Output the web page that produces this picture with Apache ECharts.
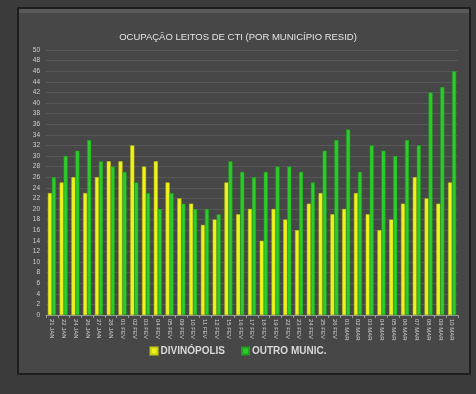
<!DOCTYPE html>
<html>
<head>
<meta charset="utf-8">
<script src="https://cdn.jsdelivr.net/npm/echarts@6/dist/echarts.min.js"></script>
<style>
  html, body { margin: 0; padding: 0; background: #3b3b3b; }
  #chart { width: 476px; height: 394px; }
</style>
</head>
<body>
<div id="chart"></div>
<script>
    // datas (rótulos do eixo x)
    var categorias = [
        '21 JAN', '22 JAN', '24 JAN', '26 JAN', '27 JAN', '28 JAN',
        '01 FEV', '02 FEV', '03 FEV', '04 FEV', '05 FEV',
        '09 FEV', '10 FEV', '11 FEV', '12 FEV', '15 FEV', '16 FEV', '17 FEV',
        '18 FEV', '19 FEV', '22 FEV', '23 FEV', '24 FEV', '25 FEV', '26 FEV',
        '01 MAR', '02 MAR', '03 MAR', '04 MAR', '05 MAR', '06 MAR', '07 MAR',
        '08 MAR', '09 MAR', '10 MAR'
    ];
    var divinopolis = [
        23, 25, 26, 23, 26, 29, 29, 32, 28, 29, 25, 22, 21, 17, 18, 25, 19, 20,
        14, 20, 18, 16, 21, 23, 19, 20, 23, 19, 16, 18, 21, 26, 22, 21, 25
    ];
    var outroMunic = [
        26, 30, 31, 33, 29, 28, 27, 25, 23, 20, 23, 21, 20, 20, 19, 29, 27, 26,
        27, 28, 28, 27, 25, 31, 33, 35, 27, 32, 31, 30, 33, 32, 42, 43, 46
    ];
    var yMax = 50;
    var yStep = 2;

    var chart = echarts.init(document.getElementById('chart'));
    var fonte = '"Liberation Sans Narrow", "Liberation Sans", sans-serif';

    var option = {
        backgroundColor: '#3b3b3b',
        animation: false,
        graphic: [
            {
                type: 'rect',
                shape: { x: 18, y: 8, width: 452, height: 366 },
                style: { fill: '#474747', stroke: '#1e1e1e', lineWidth: 2 },
                z: -10
            },
            {
                type: 'rect',
                shape: { x: 19, y: 9, width: 450, height: 4 },
                style: { fill: '#5a5a5a' },
                z: -9
            }
        ],
        title: {
            text: 'OCUPAÇÃO LEITOS DE CTI (POR MUNICÍPIO RESID)',
            left: 'center',
            top: 27,
            textStyle: {
                color: '#e4e4e4',
                fontFamily: fonte,
                fontWeight: 'normal',
                fontSize: 9.5
            }
        },
        legend: {
            bottom: 33,
            left: 'center',
            itemWidth: 7,
            itemHeight: 7,
            itemGap: 16,
            icon: 'rect',
            textStyle: {
                color: '#d8d8d8',
                fontFamily: fonte,
                fontWeight: 'bold',
                fontSize: 10,
                padding: [0, 0, 0, -2]
            },
            data: ['DIVINÓPOLIS', 'OUTRO MUNIC.']
        },
        grid: {
            left: 46,
            right: 18,
            top: 50,
            bottom: 79
        },
        xAxis: {
            type: 'category',
            data: categorias,
            axisLine: { lineStyle: { color: '#9a9a9a' } },
            axisTick: { show: true, lineStyle: { color: '#9a9a9a' }, length: 3 },
            axisLabel: {
                rotate: -90,
                interval: 0,
                color: '#d0d0d0',
                fontFamily: fonte,
                fontSize: 6,
                margin: 4
            }
        },
        yAxis: {
            type: 'value',
            min: 0,
            max: yMax,
            interval: yStep,
            axisLine: { show: false },
            axisTick: { show: false },
            axisLabel: {
                color: '#d0d0d0',
                fontFamily: fonte,
                fontSize: 6.5,
                margin: 6
            },
            splitLine: { lineStyle: { color: '#585858', width: 1 } }
        },
        series: [
            {
                name: 'DIVINÓPOLIS',
                type: 'bar',
                data: divinopolis,
                barWidth: 4,
                barGap: '0%',
                itemStyle: { color: '#eef21c', borderColor: '#c8cc10', borderWidth: 0.5 }
            },
            {
                name: 'OUTRO MUNIC.',
                type: 'bar',
                data: outroMunic,
                barWidth: 4,
                itemStyle: { color: '#2ccc2a', borderColor: '#1fa01e', borderWidth: 0.5 }
            }
        ]
    };

    chart.setOption(option);

    window.addEventListener('resize', function () {
        chart.resize();
    });
</script>
</body>
</html>
